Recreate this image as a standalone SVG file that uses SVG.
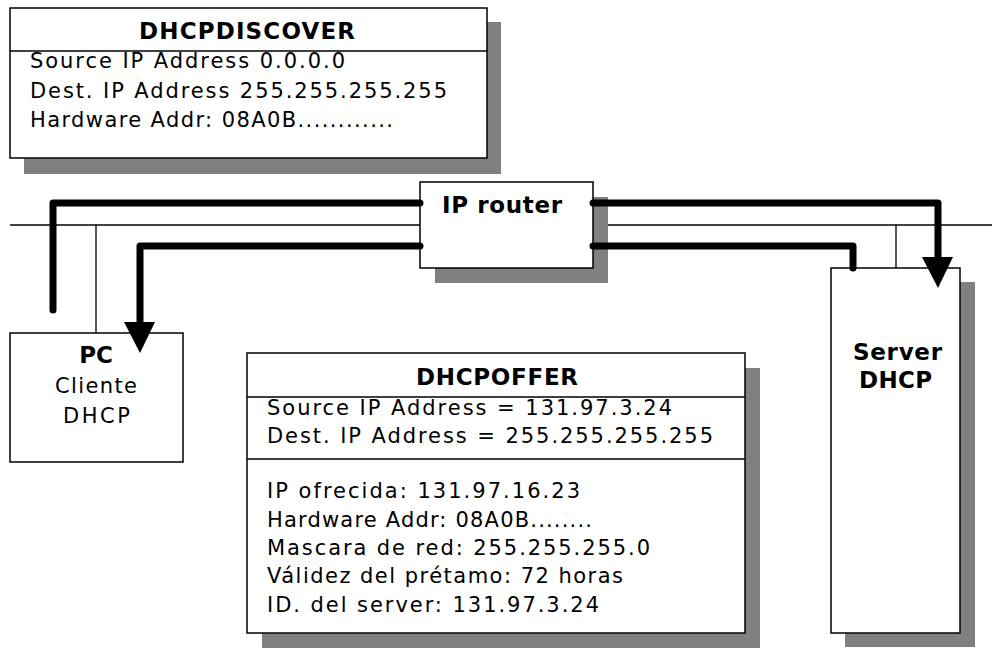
<svg xmlns="http://www.w3.org/2000/svg" width="992" height="648" viewBox="0 0 992 648">
<style>
text{font-family:"DejaVu Sans","Verdana",sans-serif;font-size:21px;fill:#000}
.b{font-weight:bold;font-size:23px}
.box{fill:#fff;stroke:#000;stroke-width:1.5}
.sh{fill:#808080}
.thin{stroke:#000;stroke-width:1.3;fill:none}
.thick{stroke:#000;stroke-width:7;fill:none;stroke-linecap:round;stroke-linejoin:round}
.head{fill:#000}
</style>
<g id="network">
<line class="thin" x1="10" y1="225" x2="992" y2="225"/>
<line class="thin" x1="96" y1="225" x2="96" y2="333"/>
<line class="thin" x1="896" y1="225" x2="896" y2="268"/>
</g>
<g id="dhcpdiscover">
<rect class="sh" x="24" y="22" width="477" height="152"/>
<rect class="box" x="10" y="8" width="477" height="150"/>
<line class="thin" x1="10" y1="51" x2="487" y2="51"/>
<text class="b" x="139" y="39" textLength="216" lengthAdjust="spacing">DHCPDISCOVER</text>
<text x="30" y="68" textLength="315" lengthAdjust="spacing">Source IP Address 0.0.0.0</text>
<text x="30" y="98" textLength="417" lengthAdjust="spacing">Dest. IP Address 255.255.255.255</text>
<text x="30" y="127" textLength="363" lengthAdjust="spacing">Hardware Addr: 08A0B............</text>
</g>
<g id="router">
<rect class="sh" x="435" y="197" width="173" height="86"/>
<rect class="box" x="420" y="182" width="173" height="86"/>
<text class="b" x="442" y="213" textLength="120" lengthAdjust="spacing">IP router</text>
</g>
<g id="pc">
<rect class="box" x="10" y="333" width="173" height="129"/>
<text class="b" x="96" y="363" text-anchor="middle">PC</text>
<text x="55" y="393" textLength="82" lengthAdjust="spacing">Cliente</text>
<text x="63" y="423" textLength="67" lengthAdjust="spacing">DHCP</text>
</g>
<g id="server">
<rect class="sh" x="845" y="282" width="130" height="365"/>
<rect class="box" x="831" y="268" width="129" height="365"/>
<text class="b" x="853" y="360" textLength="89" lengthAdjust="spacing">Server</text>
<text class="b" x="859" y="388" textLength="73" lengthAdjust="spacing">DHCP</text>
</g>
<g id="dhcpoffer">
<rect class="sh" x="262" y="368" width="498" height="280"/>
<rect class="box" x="247" y="353" width="498" height="280"/>
<line class="thin" x1="247" y1="397" x2="745" y2="397"/>
<line class="thin" x1="247" y1="459" x2="745" y2="459"/>
<text class="b" x="416" y="385" textLength="162" lengthAdjust="spacing">DHCPOFFER</text>
<text x="267" y="415" textLength="405" lengthAdjust="spacing">Source IP Address = 131.97.3.24</text>
<text x="267" y="443" textLength="446" lengthAdjust="spacing">Dest. IP Address = 255.255.255.255</text>
<text x="267" y="498" textLength="313" lengthAdjust="spacing">IP ofrecida: 131.97.16.23</text>
<text x="267" y="527" textLength="325" lengthAdjust="spacing">Hardware Addr: 08A0B........</text>
<text x="267" y="555" textLength="383" lengthAdjust="spacing">Mascara de red: 255.255.255.0</text>
<text x="267" y="583" textLength="356" lengthAdjust="spacing">Válidez del prétamo: 72 horas</text>
<text x="267" y="612" textLength="332" lengthAdjust="spacing">ID. del server: 131.97.3.24</text>
</g>
<g id="connectors">
<path class="thick" d="M420 203 H53 V310"/>
<path class="thick" d="M420 246 H140 V325"/>
<polygon class="head" points="124,322 155,322 140,353"/>
<path class="thick" d="M593 203 H938 V260"/>
<polygon class="head" points="922,257 953,257 938,288"/>
<path class="thick" d="M593 246 H853 V268"/>
</g>
</svg>
